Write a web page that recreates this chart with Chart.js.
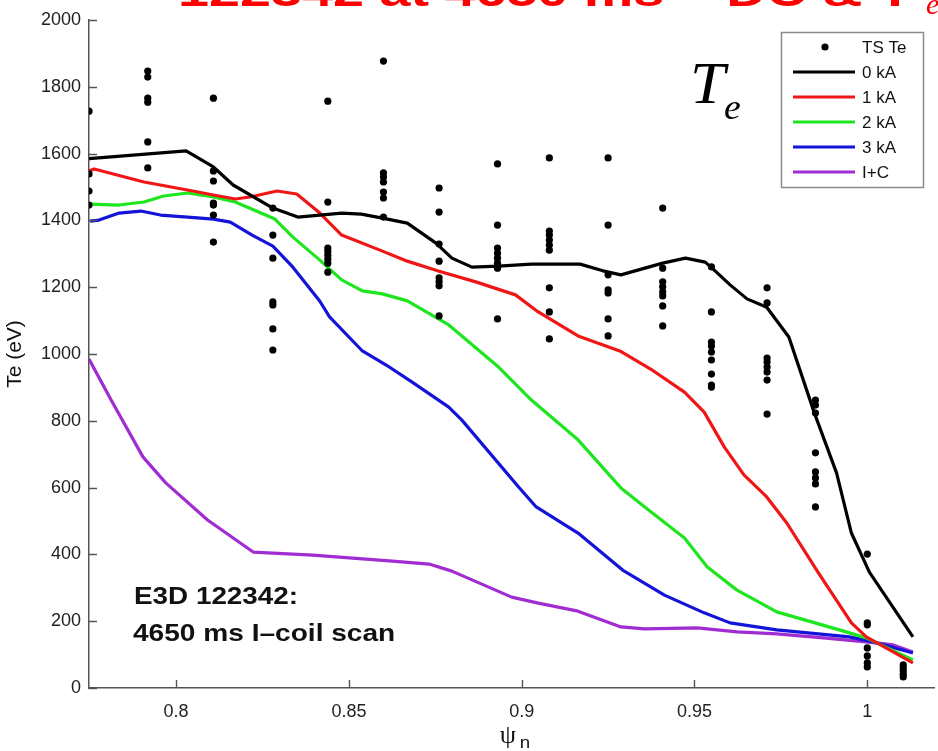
<!DOCTYPE html>
<html>
<head>
<meta charset="utf-8">
<title>Te profiles - I-coil scan</title>
<script src="https://cdn.jsdelivr.net/npm/chart.js@4.4.1/dist/chart.umd.min.js"></script>
<style>
  html, body { margin: 0; padding: 0; background: #fff; }
  #wrap { width: 938px; height: 751px; }
</style>
</head>
<body>
<div id="wrap"><canvas id="teChart" width="938" height="751"></canvas></div>
<script>
// Thomson scattering channels: psi_n of each channel and the Te samples (eV) taken there
const tsPsi = [0.7748, 0.7918, 0.8108, 0.8280, 0.8439, 0.8600, 0.8761, 0.8930,
               0.9080, 0.9250, 0.9408, 0.9549, 0.9710, 0.9850, 1.0000, 1.0104];
const tsTe = [
  [1727, 1539, 1488, 1446],
  [1847, 1829, 1766, 1754, 1635, 1557],
  [1766, 1548, 1518, 1452, 1446, 1416, 1335],
  [1437, 1356, 1287, 1156, 1147, 1075, 1012],
  [1757, 1455, 1317, 1308, 1296, 1284, 1272, 1245],
  [1877, 1542, 1530, 1515, 1485, 1467, 1410],
  [1497, 1425, 1329, 1278, 1228, 1216, 1204, 1114],
  [1569, 1386, 1317, 1302, 1287, 1272, 1257, 1105],
  [1587, 1368, 1356, 1341, 1326, 1311, 1198, 1126, 1045],
  [1587, 1386, 1237, 1192, 1183, 1105, 1054],
  [1437, 1257, 1216, 1201, 1186, 1174, 1144, 1084],
  [1261, 1126, 1036, 1024, 1006, 982, 940, 907, 901],
  [1198, 1153, 988, 976, 961, 946, 922, 820],
  [862, 847, 823, 704, 647, 629, 611, 542],
  [401, 195, 189, 120, 96, 75, 63],
  [69, 60, 51, 41, 33]
];

// fitted profiles for each I-coil current
const psi0kA = [0.7748, 0.8029, 0.8108, 0.8165, 0.8280, 0.8352, 0.8416, 0.8479, 0.8536, 0.8597,
                0.8669, 0.8752, 0.8798, 0.8856, 0.8933, 0.9028, 0.9169, 0.9235, 0.9287, 0.9408,
                0.9474, 0.9531, 0.9551, 0.9603, 0.9652, 0.9709, 0.9773, 0.9847, 0.9911, 0.9954,
                1.0006, 1.0132];
const te0kA = [1585, 1608, 1560, 1506, 1437, 1410, 1416, 1422, 1419, 1407,
               1392, 1332, 1287, 1260, 1263, 1269, 1269, 1249, 1237, 1272,
               1287, 1275, 1257, 1207, 1165, 1140, 1051, 823, 644, 464,
               347, 153];

const psi1kA = [0.7748, 0.7763, 0.7907, 0.8033, 0.8108, 0.8171, 0.8214, 0.8292, 0.8349, 0.8416,
                0.8479, 0.8597, 0.8669, 0.8761, 0.8867, 0.8982, 0.9048, 0.9163, 0.9284, 0.9373,
                0.9471, 0.9528, 0.9586, 0.9643, 0.9709, 0.9767, 0.9859, 0.9954, 0.9997, 1.0132];
const te1kA = [1548, 1554, 1515, 1491, 1476, 1464, 1470, 1488, 1479, 1422,
               1356, 1308, 1278, 1248, 1216, 1177, 1126, 1054, 1009, 955,
               886, 826, 722, 638, 572, 494, 344, 195, 153, 75];

const psi2kA = [0.7751, 0.7835, 0.7907, 0.7964, 0.8033, 0.8108, 0.8171, 0.8286, 0.8338, 0.8416,
                0.8479, 0.8539, 0.8597, 0.8669, 0.8789, 0.8933, 0.9028, 0.9163, 0.9287, 0.9356,
                0.9471, 0.9537, 0.9623, 0.9738, 0.9919, 0.9997, 1.0132];
const te2kA = [1449, 1446, 1455, 1473, 1482, 1470, 1455, 1404, 1350, 1281,
               1222, 1189, 1180, 1159, 1087, 961, 862, 743, 599, 542,
               449, 362, 293, 228, 174, 150, 84];

const psi3kA = [0.7751, 0.7777, 0.7835, 0.7898, 0.7955, 0.8033, 0.8108, 0.8157, 0.8220, 0.8280,
                0.8338, 0.8416, 0.8444, 0.8539, 0.8608, 0.8683, 0.8789, 0.8827, 0.8991, 0.9042,
                0.9163, 0.9292, 0.9413, 0.9528, 0.9603, 0.9738, 0.9948, 1.0017, 1.0132];
const te3kA = [1398, 1401, 1422, 1428, 1416, 1410, 1404, 1395, 1356, 1323,
               1260, 1158, 1111, 1009, 967, 916, 841, 802, 602, 542,
               464, 353, 278, 225, 195, 174, 153, 138, 105];

const psiIC = [0.7748, 0.7812, 0.7904, 0.7970, 0.8091, 0.8223, 0.8280, 0.8396, 0.8511, 0.8626,
               0.8732, 0.8798, 0.8971, 0.9048, 0.9163, 0.9287, 0.9356, 0.9508, 0.9623, 0.9738,
               0.9873, 0.9997, 1.0075, 1.0132];
const teIC = [985, 862, 692, 614, 503, 407, 404, 398, 389, 380,
              371, 350, 272, 254, 230, 183, 177, 180, 168, 162,
              150, 138, 129, 108];

const profileLabels = ['0 kA', '1 kA', '2 kA', '3 kA', 'I+C'];
const profileColors = ['#000000', '#f01616', '#1ee61e', '#1414d8', '#a02cd2'];
const profilePsi = [psi0kA, psi1kA, psi2kA, psi3kA, psiIC];
const profileTe = [te0kA, te1kA, te2kA, te3kA, teIC];

const xTicks = [0.8, 0.85, 0.9, 0.95, 1];
const yTicks = [0, 200, 400, 600, 800, 1000, 1200, 1400, 1600, 1800, 2000];

const SANS = '"Liberation Sans", Arial, Helvetica, sans-serif';
const SERIF = '"Liberation Serif", "Times New Roman", serif';
const AXIS = '#555555';

function pairs(xs, ys) {
  return xs.map((x, i) => ({ x: x, y: ys[i] }));
}

const tsPoints = [];
tsPsi.forEach((p, i) => tsTe[i].forEach(t => tsPoints.push({ x: p, y: t })));

const datasets = [{
  label: 'TS Te',
  data: tsPoints,
  showLine: false,
  pointRadius: 3.6,
  pointBackgroundColor: '#000',
  pointBorderWidth: 0
}];
profileLabels.forEach((lab, i) => {
  datasets.push({
    label: lab,
    data: pairs(profilePsi[i], profileTe[i]),
    showLine: true,
    borderColor: profileColors[i],
    backgroundColor: profileColors[i],
    borderWidth: 3.2,
    pointRadius: 0,
    tension: 0,
    borderJoinStyle: 'round'
  });
});

// text helper: horizontally stretched text
function putText(ctx, text, x, y, font, color, sx, align) {
  ctx.save();
  ctx.font = font;
  ctx.fillStyle = color;
  ctx.textAlign = align || 'left';
  ctx.textBaseline = 'alphabetic';
  ctx.translate(x, y);
  ctx.scale(sx, 1);
  ctx.fillText(text, 0, 0);
  ctx.restore();
}

const decorations = {
  id: 'decorations',
  afterDraw(chart) {
    const ctx = chart.ctx;
    const xs = chart.scales.x, ys = chart.scales.y;
    const a = chart.chartArea;

    // MATLAB style inward ticks
    ctx.save();
    ctx.strokeStyle = AXIS;
    ctx.lineWidth = 1.4;
    ctx.beginPath();
    xs.ticks.forEach(t => {
      const px = Math.round(xs.getPixelForValue(t.value)) + 0.5;
      ctx.moveTo(px, a.bottom);
      ctx.lineTo(px, a.bottom - 8);
    });
    ys.ticks.forEach(t => {
      const py = Math.round(ys.getPixelForValue(t.value)) + 0.5;
      ctx.moveTo(a.left, py);
      ctx.lineTo(a.left + 8, py);
    });
    ctx.stroke();
    ctx.restore();

    // x axis title: psi_n
    putText(ctx, 'ψ', 508, 743, '26px ' + SERIF, '#111', 1, 'center');
    putText(ctx, 'n', 525, 748, '17px ' + SANS, '#111', 1.1, 'center');

    // slide heading (mostly above the frame)
    ctx.save();
    ctx.font = 'bold 40px ' + SANS;
    const head = '122342 at 4650 ms – DC & T';
    const w = ctx.measureText(head).width;
    ctx.restore();
    putText(ctx, head, 178, 6, 'bold 40px ' + SANS, '#ff0000', (912 - 178) / w);
    putText(ctx, 'e', 926, 14, 'italic 30px ' + SERIF, '#ff0000', 1);

    // big T_e label
    putText(ctx, 'T', 690, 103, 'italic 60px ' + SERIF, '#000', 1.05);
    putText(ctx, 'e', 724, 119, 'italic 36px ' + SERIF, '#000', 1.05);

    // shot annotation
    putText(ctx, 'E3D 122342:', 134, 604, 'bold 24px ' + SANS, '#111', 1.16);
    putText(ctx, '4650 ms I–coil scan', 133, 641, 'bold 24px ' + SANS, '#111', 1.17);

    // legend box
    const lx = 781, ly = 32, lw = 142, lh = 155;
    ctx.save();
    ctx.fillStyle = '#fff';
    ctx.fillRect(lx, ly, lw, lh);
    ctx.strokeStyle = '#8a8a8a';
    ctx.lineWidth = 1.5;
    ctx.strokeRect(lx + 0.5, ly + 0.5, lw, lh);
    chart.data.datasets.forEach((ds, i) => {
      const ry = 47 + i * 25;
      if (ds.showLine) {
        ctx.strokeStyle = ds.borderColor;
        ctx.lineWidth = 3.2;
        ctx.beginPath();
        ctx.moveTo(793, ry);
        ctx.lineTo(855, ry);
        ctx.stroke();
      } else {
        ctx.fillStyle = '#000';
        ctx.beginPath();
        ctx.arc(825, ry, 3.6, 0, Math.PI * 2);
        ctx.fill();
      }
      ctx.fillStyle = '#111';
      ctx.font = '17px ' + SANS;
      ctx.textBaseline = 'middle';
      ctx.textAlign = 'left';
      ctx.fillText(ds.label, 862, ry + 1);
    });
    ctx.restore();
  }
};

new Chart(document.getElementById('teChart'), {
  type: 'scatter',
  data: { datasets: datasets },
  options: {
    responsive: false,
    animation: false,
    layout: { padding: { left: 0, right: 0, top: 20, bottom: 0 } },
    plugins: {
      legend: { display: false },
      tooltip: { enabled: false }
    },
    scales: {
      x: {
        type: 'linear',
        min: 0.7748,
        max: 1.0193,
        afterBuildTicks: scale => { scale.ticks = xTicks.map(v => ({ value: v })); },
        afterFit: scale => { scale.height = 63; },
        grid: { drawOnChartArea: false, drawTicks: false },
        border: { display: true, color: AXIS, width: 1.5 },
        ticks: {
          padding: 13,
          color: '#222',
          font: { family: SANS, size: 18 },
          maxRotation: 0,
          callback: v => String(v)
        }
      },
      y: {
        type: 'linear',
        min: 0,
        max: 2000,
        afterBuildTicks: scale => { scale.ticks = yTicks.map(v => ({ value: v })); },
        afterFit: scale => { scale.width = 89; },
        grid: { drawOnChartArea: false, drawTicks: false },
        border: { display: true, color: AXIS, width: 1.5 },
        ticks: {
          padding: 8,
          color: '#222',
          font: { family: SANS, size: 18 },
          callback: v => String(v)
        },
        title: {
          display: true,
          text: 'Te (eV)',
          color: '#111',
          font: { family: SANS, size: 21 },
          padding: { top: 3, bottom: 0 }
        }
      }
    }
  },
  plugins: [decorations]
});
</script>
</body>
</html>
